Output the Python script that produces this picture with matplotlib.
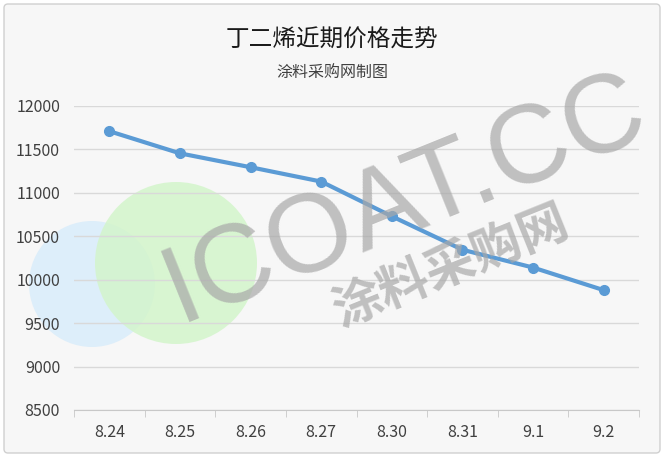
import matplotlib.pyplot as plt
from matplotlib.patches import Circle, FancyBboxPatch

plt.rcParams['font.family'] = ['Noto Sans CJK SC', 'DejaVu Sans']

# Data
dates = ['8.24', '8.25', '8.26', '8.27', '8.30', '8.31', '9.1', '9.2']
prices = [11710, 11455, 11295, 11130, 10730, 10345, 10140, 9880]
y_ticks = [8500, 9000, 9500, 10000, 10500, 11000, 11500, 12000]

title = '丁二烯近期价格走势'
subtitle = '涂料采购网制图'

W, H = 664, 458
fig = plt.figure(figsize=(W / 100, H / 100), dpi=100)
fig.patch.set_facecolor('white')

# background layer in pixel coordinates
bg = fig.add_axes([0, 0, 1, 1], zorder=0)
bg.set_xlim(0, W)
bg.set_ylim(H, 0)
bg.axis('off')
bg.add_patch(FancyBboxPatch((4, 4), W - 8, H - 9,
                            boxstyle='round,pad=0,rounding_size=4',
                            facecolor='#f7f7f7', edgecolor='#d0d0d0', lw=1))
bg.add_patch(Circle((92, 284), 63, facecolor='#ddeefa', edgecolor='none'))
bg.add_patch(Circle((176, 263), 81, facecolor='#d3f5cb', edgecolor='none',
                    alpha=0.85))
bg.text(W / 2, 40, title, ha='center', va='center', fontsize=17,
        color='#1a1a1a')
bg.text(W / 2, 72, subtitle, ha='center', va='center', fontsize=11.5,
        color='#404040')

# main chart
ax = fig.add_axes([74 / W, 1 - 410 / H, (639 - 74) / W, (410 - 106) / H],
                  zorder=1)
ax.patch.set_alpha(0)
x = range(len(dates))
ax.plot(x, prices, color='#5b9bd5', lw=3, marker='o', ms=7,
        solid_capstyle='round', zorder=3)
ax.set_xlim(-0.5, len(dates) - 0.5)
ax.set_ylim(8500, 12000)
ax.set_yticks(y_ticks)
ax.set_yticklabels([str(v) for v in y_ticks], fontsize=11.5, color='#404040')
ax.set_xticks(x)
ax.set_xticklabels(dates, fontsize=11.5, color='#404040')
ax.set_xticks([i - 0.5 for i in range(len(dates) + 1)], minor=True)
ax.tick_params(axis='x', which='major', length=0, pad=10)
ax.tick_params(axis='x', which='minor', length=5, color='#c8c8c8')
ax.tick_params(axis='y', length=0, pad=10)
ax.grid(axis='y', color='#d9d9d9', lw=1)
ax.set_axisbelow(True)
for s in ['top', 'right', 'left']:
    ax.spines[s].set_visible(False)
ax.spines['bottom'].set_color('#c8c8c8')

# watermark on top
wm = fig.add_axes([0, 0, 1, 1], zorder=2)
wm.set_xlim(0, W)
wm.set_ylim(H, 0)
wm.axis('off')
wm.text(405, 200, 'ICOAT.CC', ha='center', va='center', fontsize=80,
        color='#a8a8a8', alpha=0.7, rotation=22, family='Liberation Sans')
wm.text(452, 268, '涂料采购网', ha='center', va='center', fontsize=36,
        color='#a8a8a8', alpha=0.7, rotation=22, fontweight='bold')

fig.savefig('out.png', dpi=100)
